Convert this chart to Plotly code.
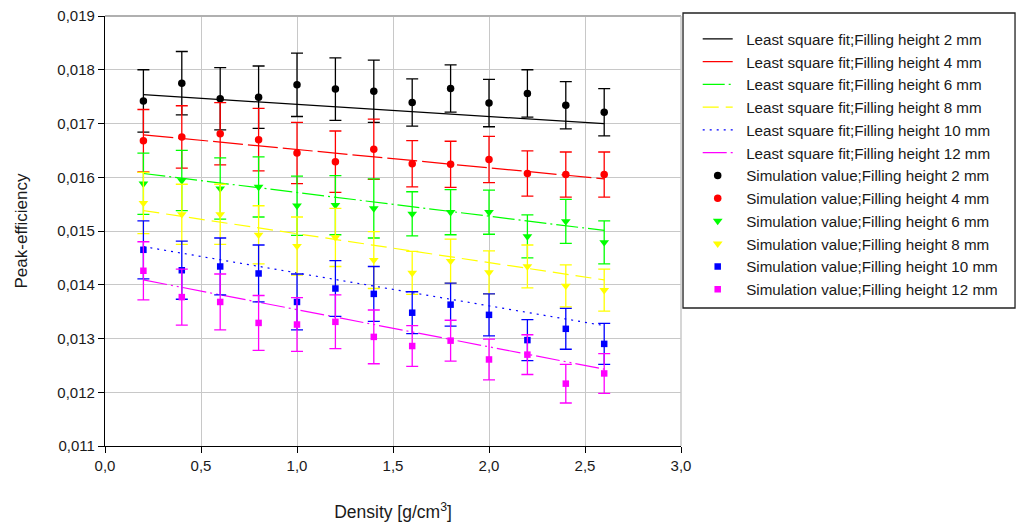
import plotly.graph_objects as go

# ---- data ----
density = [0.2, 0.4, 0.6, 0.8, 1.0, 1.2, 1.4, 1.6, 1.8, 2.0, 2.2, 2.4, 2.6]
fit_x = [0.2, 2.6]

heights = ["2", "4", "6", "8", "10", "12"]

sim_2mm = [0.01742, 0.01775, 0.01746, 0.01749, 0.01772, 0.01764, 0.01760, 0.01739, 0.01765, 0.01738, 0.01756, 0.01734, 0.01721]
err_2mm = [0.00058, 0.00059, 0.00058, 0.00058, 0.00059, 0.00058, 0.00058, 0.00044, 0.00044, 0.00044, 0.00044, 0.00044, 0.00044]
sim_4mm = [0.01668, 0.01675, 0.01681, 0.01670, 0.01645, 0.01629, 0.01652, 0.01625, 0.01624, 0.01633, 0.01607, 0.01605, 0.01605]
err_4mm = [0.00058, 0.00058, 0.00058, 0.00058, 0.00057, 0.00057, 0.00056, 0.00043, 0.00043, 0.00043, 0.00042, 0.00042, 0.00042]
sim_6mm = [0.01588, 0.01594, 0.01579, 0.01582, 0.01547, 0.01548, 0.01542, 0.01532, 0.01535, 0.01535, 0.01490, 0.01518, 0.01479]
err_6mm = [0.00057, 0.00056, 0.00057, 0.00056, 0.00055, 0.00055, 0.00055, 0.00041, 0.00042, 0.00041, 0.00040, 0.00041, 0.00040]
sim_8mm = [0.01552, 0.01531, 0.01531, 0.01493, 0.01472, 0.01488, 0.01446, 0.01422, 0.01444, 0.01423, 0.01434, 0.01398, 0.01390]
err_8mm = [0.00057, 0.00056, 0.00056, 0.00054, 0.00054, 0.00054, 0.00053, 0.00040, 0.00041, 0.00040, 0.00040, 0.00039, 0.00039]
sim_10mm = [0.01465, 0.01427, 0.01434, 0.01421, 0.01368, 0.01393, 0.01383, 0.01348, 0.01363, 0.01344, 0.01297, 0.01318, 0.01290]
err_10mm = [0.00054, 0.00054, 0.00053, 0.00053, 0.00052, 0.00052, 0.00051, 0.00039, 0.00040, 0.00039, 0.00038, 0.00038, 0.00038]
sim_12mm = [0.01426, 0.01377, 0.01368, 0.01329, 0.01326, 0.01331, 0.01303, 0.01286, 0.01296, 0.01261, 0.01270, 0.01216, 0.01235]
err_12mm = [0.00054, 0.00052, 0.00052, 0.00051, 0.00050, 0.00050, 0.00050, 0.00038, 0.00038, 0.00038, 0.00037, 0.00036, 0.00037]

fit_2mm = [0.017536, 0.016996]
fit_4mm = [0.01679, 0.01597]
fit_6mm = [0.01607, 0.01501]
fit_8mm = [0.01538, 0.01409]
fit_10mm = [0.01471, 0.01324]
fit_12mm = [0.01409, 0.01243]

x_ticks = [0.0, 0.5, 1.0, 1.5, 2.0, 2.5, 3.0]
y_ticks = [0.011, 0.012, 0.013, 0.014, 0.015, 0.016, 0.017, 0.018, 0.019]

# ---- styles ----
sims = [sim_2mm, sim_4mm, sim_6mm, sim_8mm, sim_10mm, sim_12mm]
errs = [err_2mm, err_4mm, err_6mm, err_8mm, err_10mm, err_12mm]
fits = [fit_2mm, fit_4mm, fit_6mm, fit_8mm, fit_10mm, fit_12mm]
colors = ["#000000", "#ff0000", "#00ff00", "#ffff00", "#0000ff", "#ff00ff"]
dashes = ["solid", "30px,5px", "22px,4px,2px,4px", "16px,7px", "2px,5px", "24px,4px,2px,4px,2px,4px"]
symbols = ["circle", "circle", "triangle-down", "triangle-down", "square", "square"]
msizes = [7.5, 7.5, 8.5, 8.5, 6.5, 6.5]

FONT = "Liberation Sans, Arial, sans-serif"
PAD = "\u00a0\u00a0"

fig = go.Figure()

for i, h in enumerate(heights):
    fig.add_trace(go.Scatter(
        x=fit_x, y=fits[i], mode="lines",
        name=f"{PAD}Least square fit;Filling height {h} mm",
        line=dict(color=colors[i], width=1.2, dash=dashes[i]),
    ))

for i, h in enumerate(heights):
    fig.add_trace(go.Scatter(
        x=density, y=sims[i], mode="markers",
        name=f"{PAD}Simulation value;Filling height {h} mm",
        marker=dict(color=colors[i], symbol=symbols[i], size=msizes[i], line=dict(width=0)),
        error_y=dict(type="data", array=errs[i], visible=True, color=colors[i],
                     thickness=1.3, width=6),
    ))

# legend frame
fig.add_shape(type="rect", xref="paper", yref="paper",
              x0=1.0035, x1=1.5799, y0=0.3209, y1=1.0070,
              line=dict(color="#222222", width=1.3), fillcolor="rgba(0,0,0,0)")

fig.update_layout(
    width=1017, height=526,
    margin=dict(l=105, r=336, t=16, b=80, autoexpand=False),
    paper_bgcolor="white", plot_bgcolor="white",
    separators=",.",
    font=dict(family=FONT, size=15, color="#1a1a1a"),
    showlegend=True,
    legend=dict(
        x=1.029, y=0.985, xanchor="left", yanchor="top",
        bgcolor="rgba(0,0,0,0)", borderwidth=0,
        font=dict(family=FONT, size=15.2, color="#1a1a1a"),
        itemwidth=30,
    ),
    xaxis=dict(
        range=[0, 3], tickvals=x_ticks, tickformat=".1f",
        showgrid=True, gridcolor="#c8c8c8", gridwidth=1,
        showline=True, linecolor="#000000", linewidth=1.3,
        ticks="outside", ticklen=6, tickcolor="#000000",
        zeroline=False, automargin=False,
        title=dict(text="Density [g/cm<sup>3</sup>]", font=dict(family=FONT, size=17.5), standoff=32),
        tickfont=dict(family=FONT, size=15),
    ),
    yaxis=dict(
        range=[0.011, 0.019], tickvals=y_ticks, tickformat=".3f",
        showgrid=True, gridcolor="#c8c8c8", gridwidth=1,
        showline=True, linecolor="#000000", linewidth=1.3,
        ticks="outside", ticklen=6, tickcolor="#000000",
        zeroline=False, automargin=False,
        title=dict(text="Peak-efficiency", font=dict(family=FONT, size=17), standoff=25),
        tickfont=dict(family=FONT, size=15),
    ),
)

# top and right frame in grid grey
fig.add_shape(type="line", xref="paper", yref="paper", x0=0, x1=1, y0=1, y1=1,
              line=dict(color="#b0b0b0", width=2))
fig.add_shape(type="line", xref="paper", yref="paper", x0=1, x1=1, y0=0, y1=1,
              line=dict(color="#c8c8c8", width=1.5))

fig.write_html("out.html", config={"displayModeBar": False},
               post_script="document.body.style.margin='0px';")
